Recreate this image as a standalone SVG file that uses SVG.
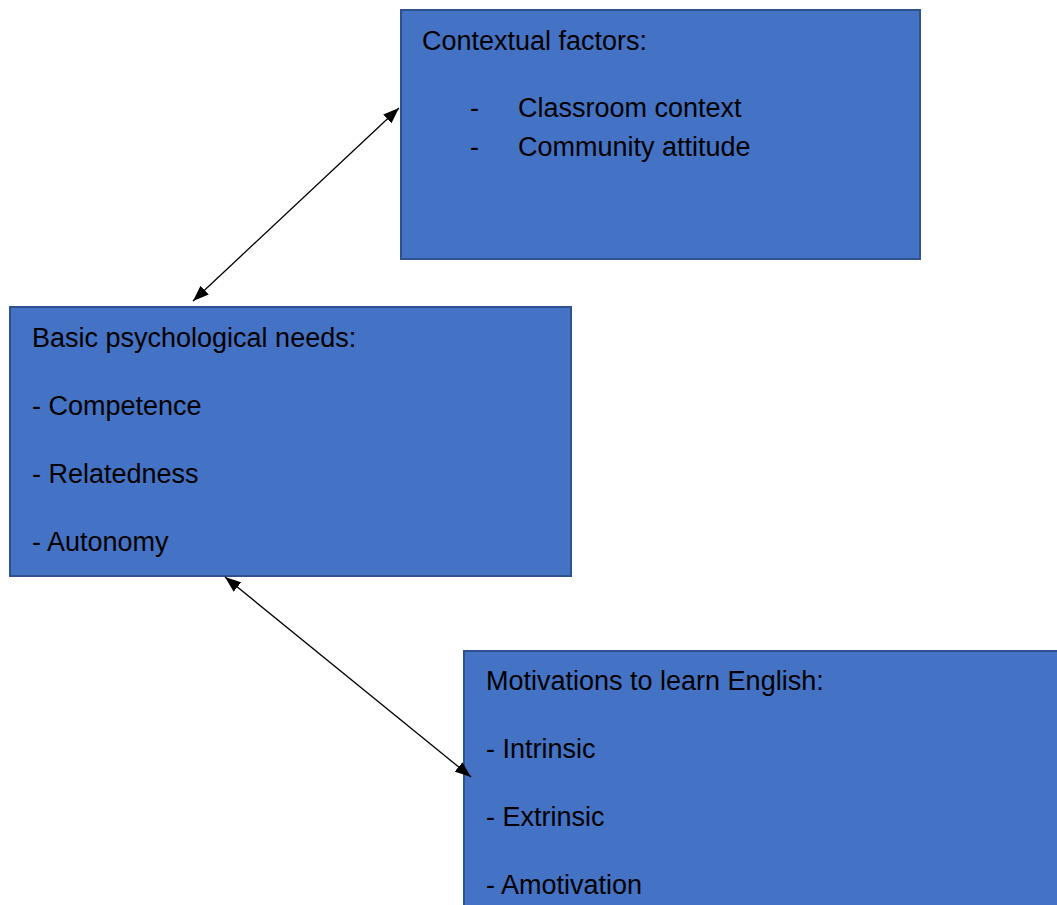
<svg xmlns="http://www.w3.org/2000/svg" width="1057" height="905" viewBox="0 0 1057 905">
<defs>
<style>
.box{fill:#4472C4;stroke:#2F528F;stroke-width:2}
.t{font-family:"Liberation Sans",Arial,sans-serif;font-size:27px;fill:#000}
.c{stroke:#000;stroke-width:1.3;fill:none}
</style>
<marker id="ah" viewBox="0 0 16 12" refX="16" refY="6" markerWidth="16" markerHeight="12" markerUnits="userSpaceOnUse" orient="auto-start-reverse">
<path d="M0,0 L16,6 L0,12 z" fill="#000"/>
</marker>
</defs>
<rect width="1057" height="905" fill="#fff"/>
<g id="contextual">
<rect class="box" x="401" y="10" width="519" height="249"/>
<text class="t" x="422" y="50">Contextual factors:</text>
<text class="t" x="470" y="117">-</text>
<text class="t" x="518" y="117">Classroom context</text>
<text class="t" x="470" y="156">-</text>
<text class="t" x="518" y="156">Community attitude</text>
</g>
<g id="needs">
<rect class="box" x="10" y="307" width="561" height="269"/>
<text class="t" x="32" y="347">Basic psychological needs:</text>
<text class="t" x="32" y="415">- Competence</text>
<text class="t" x="32" y="483">- Relatedness</text>
<text class="t" x="32" y="551">- Autonomy</text>
</g>
<g id="motivations">
<rect class="box" x="464" y="651" width="600" height="270"/>
<text class="t" x="486" y="690">Motivations to learn English:</text>
<text class="t" x="486" y="758">- Intrinsic</text>
<text class="t" x="486" y="826">- Extrinsic</text>
<text class="t" x="486" y="894">- Amotivation</text>
</g>
<g id="connectors">
<line class="c" x1="399" y1="108" x2="193" y2="301" marker-start="url(#ah)" marker-end="url(#ah)"/>
<line class="c" x1="225" y1="577" x2="471" y2="777" marker-start="url(#ah)" marker-end="url(#ah)"/>
</g>
</svg>
